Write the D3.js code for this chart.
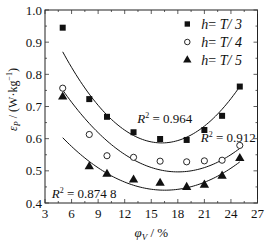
<!DOCTYPE html>
<html>
<head>
<meta charset="utf-8">
<script src="https://cdn.jsdelivr.net/npm/d3@7"></script>
<style>
  body { margin: 0; background: #fff; }
  svg { display: block; }
  text { font-family: "Liberation Serif", "Times New Roman", serif; fill: #111; }
</style>
</head>
<body>
<svg id="chart" width="275" height="248"></svg>
<script>
// data
const phiV = [5, 8, 10, 13, 16, 19, 21, 23, 25];
const epsT3 = [0.945, 0.723, 0.668, 0.62, 0.599, 0.596, 0.627, 0.671, 0.762];
const epsT4 = [0.757, 0.613, 0.547, 0.542, 0.53, 0.528, 0.531, 0.533, 0.579];
const epsT5 = [0.73, 0.513, 0.49, 0.472, 0.462, 0.449, 0.456, 0.484, 0.539];

// quadratic fits (a, b, c) as drawn, and their R2 labels
const fitT3 = [0.00226, -0.0732, 1.1795];
const fitT4 = [0.0015, -0.05406, 0.9838];
const fitT5 = [0.001226, -0.04054, 0.775];
const r2Labels = ['0.964', '0.912', '0.874 8'];

const seriesNames = ['T/3', 'T/4', 'T/5'];
const xTicks = [3, 6, 9, 12, 15, 18, 21, 24, 27];
const yTicks = [0.4, 0.5, 0.6, 0.7, 0.8, 0.9, 1.0];

const svg = d3.select('#chart');
const padding = { left: 45, right: 17.5, top: 10, bottom: 45 };
const width = 275 - padding.left - padding.right;
const height = 248 - padding.top - padding.bottom;

const x = d3.scaleLinear().domain([3, 27]).range([0, width]);
const y = d3.scaleLinear().domain([0.4, 1.0]).range([height, 0]);

const canvas = svg.append('g').attr('transform', `translate(${padding.left}, ${padding.top})`);

// frame
canvas.append('rect')
  .attr('width', width).attr('height', height)
  .attr('fill', 'none').attr('stroke', '#222').attr('stroke-width', 1);

// inward ticks on all four sides (major + minor)
const tickG = canvas.append('g').attr('stroke', '#333').attr('stroke-width', 0.8);
const xMinor = d3.range(4.5, 27, 3);
const yMinor = d3.range(0.45, 1.0, 0.1);
xTicks.forEach(t => {
  tickG.append('line').attr('x1', x(t)).attr('x2', x(t)).attr('y1', height).attr('y2', height - 4);
  tickG.append('line').attr('x1', x(t)).attr('x2', x(t)).attr('y1', 0).attr('y2', 4);
});
xMinor.forEach(t => {
  tickG.append('line').attr('x1', x(t)).attr('x2', x(t)).attr('y1', height).attr('y2', height - 2);
  tickG.append('line').attr('x1', x(t)).attr('x2', x(t)).attr('y1', 0).attr('y2', 2);
});
yTicks.forEach(t => {
  tickG.append('line').attr('y1', y(t)).attr('y2', y(t)).attr('x1', 0).attr('x2', 4);
  tickG.append('line').attr('y1', y(t)).attr('y2', y(t)).attr('x1', width).attr('x2', width - 4);
});
yMinor.forEach(t => {
  tickG.append('line').attr('y1', y(t)).attr('y2', y(t)).attr('x1', 0).attr('x2', 2);
  tickG.append('line').attr('y1', y(t)).attr('y2', y(t)).attr('x1', width).attr('x2', width - 2);
});

// tick labels
canvas.selectAll('text.xt').data(xTicks).enter().append('text')
  .attr('class', 'xt')
  .attr('x', d => x(d)).attr('y', height + 15)
  .attr('text-anchor', 'middle').attr('font-size', 13)
  .text(d => d);
canvas.selectAll('text.yt').data(yTicks).enter().append('text')
  .attr('class', 'yt')
  .attr('x', -3).attr('y', d => y(d) + 4.5)
  .attr('text-anchor', 'end').attr('font-size', 13)
  .text(d => d.toFixed(1));

// axis titles
const xTitle = canvas.append('text')
  .attr('x', width / 2).attr('y', height + 34)
  .attr('text-anchor', 'middle').attr('font-size', 13);
xTitle.append('tspan').attr('font-style', 'italic').text('φ');
xTitle.append('tspan').attr('font-style', 'italic').attr('font-size', 9).attr('dy', 3).text('V');
xTitle.append('tspan').attr('dy', -3).text(' / %');

const yTitle = canvas.append('text')
  .attr('transform', `translate(-28, ${height / 2 - 7}) rotate(-90)`)
  .attr('text-anchor', 'middle').attr('font-size', 12);
yTitle.append('tspan').attr('font-style', 'italic').text('ε');
yTitle.append('tspan').attr('font-style', 'italic').attr('font-size', 8).attr('dy', 3).text('P');
yTitle.append('tspan').attr('dy', -3).text(' / (W·kg');
yTitle.append('tspan').attr('font-size', 8).attr('dy', -5).text('−1');
yTitle.append('tspan').attr('dy', 5).text(')');

// fitted curves
const curveX = d3.range(5, 25.01, 0.25);
const line = d3.line().x(d => x(d[0])).y(d => y(d[1]));
[fitT3, fitT4, fitT5].forEach(f => {
  canvas.append('path')
    .datum(curveX.map(v => [v, f[0] * v * v + f[1] * v + f[2]]))
    .attr('d', line)
    .attr('fill', 'none').attr('stroke', '#111').attr('stroke-width', 1);
});

// markers
const symbols = [
  { type: d3.symbolSquare, size: 36, fill: '#111', stroke: 'none' },
  { type: d3.symbolCircle, size: 30, fill: '#fff', stroke: '#111' },
  { type: d3.symbolTriangle, size: 38, fill: '#111', stroke: 'none' }
];
[epsT3, epsT4, epsT5].forEach((vals, k) => {
  const s = symbols[k];
  canvas.selectAll(`path.m${k}`).data(vals).enter().append('path')
    .attr('class', `m${k}`)
    .attr('d', d3.symbol().type(s.type).size(s.size))
    .attr('transform', (d, i) => `translate(${x(phiV[i])}, ${y(d)})`)
    .attr('fill', s.fill).attr('stroke', s.stroke).attr('stroke-width', 0.9);
});

// legend
const legend = canvas.append('g').attr('transform', `translate(${187.3 - padding.left}, ${24 - padding.top})`);
seriesNames.forEach((name, k) => {
  const s = symbols[k];
  const row = legend.append('g').attr('transform', `translate(0, ${k * 18})`);
  row.append('path')
    .attr('d', d3.symbol().type(s.type).size(s.size * 0.8))
    .attr('fill', s.fill).attr('stroke', s.stroke).attr('stroke-width', 0.9);
  const t = row.append('text').attr('x', 14).attr('y', 5).attr('font-size', 14).attr('font-style', 'italic');
  t.append('tspan').text('h');
  t.append('tspan').attr('font-style', 'normal').text('= ');
  t.append('tspan').text(name.replace('/', '/ '));
});

// R2 labels
const r2Pos = [[137.3, 122.5], [200.7, 142], [51.7, 198]];
r2Labels.forEach((lab, k) => {
  const t = canvas.append('text')
    .attr('x', r2Pos[k][0] - padding.left).attr('y', r2Pos[k][1] - padding.top)
    .attr('font-size', 13);
  t.append('tspan').attr('font-style', 'italic').text('R');
  t.append('tspan').attr('font-size', 8).attr('dy', -5).text('2');
  t.append('tspan').attr('dy', 5).text(' = ' + lab);
});
</script>
</body>
</html>
